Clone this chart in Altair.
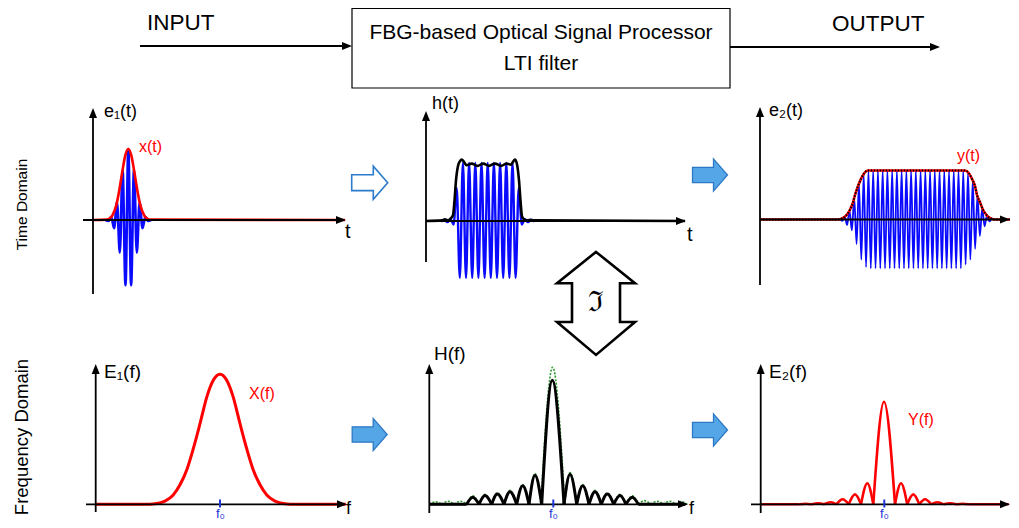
import altair as alt
import numpy as np
import pandas as pd

# ---------------- values ----------------
# Top-left panel, e1(t): Gaussian pulse envelope x(t) and its carrier
e1_env_t = [0, 13.3, 15.8, 19.3, 23.3, 26.3, 29.3, 32.3, 35.3, 38.3, 41.3, 44.3, 47.3, 51.3, 54.8, 57.3, 252]
e1_env_v = [0, 0.005, 0.016, 0.063, 0.21, 0.42, 0.68, 0.91, 1.0, 0.91, 0.68, 0.42, 0.21, 0.063, 0.016, 0.005, 0]
e1_car_t = [12.5, 15.5, 18.3, 21.1, 24.0, 26.8, 29.6, 32.5, 35.3, 38.1, 41.0, 43.8, 46.6, 49.5, 52.3, 55.1, 58.0]
e1_car_v = [0, -0.014, 0.044, -0.115, 0.25, -0.46, 0.71, -0.92, 1.0, -0.92, 0.71, -0.46, 0.25, -0.115, 0.044, -0.014, 0]

# Top-middle panel, h(t): FBG impulse response envelope and carrier
h_env_t = [0, 16, 19, 22, 25, 27, 28.5, 30, 32, 34, 35.7, 38, 40.5, 45.7, 51.5, 57.3, 63, 69, 75, 80.7,
           85, 87, 89, 91, 93, 94.5, 96, 98, 101, 104, 108, 259]
h_env_v = [0, 0.01, 0.03, 0.01, 0.05, 0.1, 0.35, 0.7, 0.95, 1.03, 1.06, 1.02, 0.96, 0.99, 0.95, 0.99, 0.95, 0.99, 0.95, 0.99,
           0.97, 1.02, 1.06, 0.98, 0.7, 0.35, 0.08, 0.03, 0.01, 0.02, 0.01, 0]
h_car_t0, h_car_dt = 15.2, 3.1
h_car_v = [-0.01, 0.02, -0.02, 0.03, -0.06, 0.57,
           -0.98, 1, -0.98, 1, -0.98, 1, -0.98, 1, -0.98, 1, -0.98, 1, -0.98, 1, -0.98, 1, -0.98, 1, -0.98,
           0.57, -0.06, 0.03, -0.02, 0.02, -0.01]

# Top-right panel, e2(t): output envelope y(t) and carrier
e2_env_t = [0, 78, 82, 86, 90, 93, 95, 98, 101, 104, 108, 205, 209, 212, 215, 217, 220, 223, 227, 231, 235, 250]
e2_env_v = [0, 0, 0.02, 0.08, 0.2, 0.35, 0.5, 0.68, 0.83, 0.94, 1.0, 1.0, 0.94, 0.83, 0.68, 0.5, 0.35, 0.2, 0.08, 0.02, 0, 0]
e2_car_t0, e2_car_dt = 80.0, 2.37
e2_car_v = ([0.01, -0.03, 0.06, -0.11, 0.18, -0.22, 0.44, -0.5, 0.73, -0.82, 0.93, -0.97]
            + [1, -1] * 20 + [1]
            + [-0.92, 0.96, -0.82, 0.8, -0.6, 0.5, -0.34, 0.23, -0.14, 0.08, -0.04, 0.02])

# Bottom-left panel, E1(f): Gaussian spectrum X(f)
E1_t = [0, 49.3, 59.3, 69.3, 77.3, 84.3, 91.3, 97.3, 104.3, 111.3, 117.3, 124.3, 131.3, 137.3, 144.3,
        151.3, 157.3, 164.3, 171.3, 179.3, 189.3, 199.3, 250]
E1_v = [0, 0, 0.005, 0.025, 0.07, 0.15, 0.27, 0.42, 0.62, 0.83, 0.95, 1.0, 0.95, 0.83, 0.62,
        0.42, 0.27, 0.15, 0.07, 0.025, 0.005, 0, 0]

# Bottom-middle panel, H(f): sinc-like response (black) and dotted reference (green)
H_zeros = [37.4, 49.7, 62.4, 74.7, 87.4, 99.7, 112.4, 134.7, 147.4, 159.7, 172, 184.4, 196.7, 209]
H_pk_t = [43.4, 55.7, 68, 80.7, 93.4, 105.7, 123, 140.7, 153.4, 165.7, 178, 190.7, 203]
H_pk_v = [0.056, 0.07, 0.083, 0.102, 0.15, 0.234, 1.0, 0.242, 0.15, 0.102, 0.083, 0.07, 0.056]
G_zeros = [0, 12.4, 24.9, 37.4, 49.7, 62.4, 74.7, 87.4, 99.7, 111.6, 135.5, 147.4, 159.7, 172, 184.4,
           196.7, 209, 221.5, 234, 246.5, 258]
G_pk_t = [6.2, 18.6, 31.1, 43.4, 55.7, 68, 80.7, 93.4, 105.7, 123.3, 140.7, 153.4, 165.7, 178, 190.7,
          203, 215.2, 227.7, 240.2, 252.2]
G_pk_v = [0.02, 0.025, 0.025, 0.068, 0.08, 0.092, 0.112, 0.16, 0.248, 1.105, 0.256, 0.16, 0.112, 0.092,
          0.08, 0.068, 0.03, 0.025, 0.025, 0.02]

# Bottom-right panel, E2(f): output spectrum Y(f)
E2_zeros = [38.8, 51.1, 63.4, 75.7, 88, 100.3, 112.6, 134.3, 146.5, 158.6, 170.5, 183, 195.6, 208]
E2_pk_t = [45, 57.6, 70, 82, 94.3, 106.6, 123.3, 140.3, 152.6, 164.3, 176.6, 189.3, 201.8]
E2_pk_v = [0.005, 0.01, 0.02, 0.049, 0.097, 0.205, 1.0, 0.205, 0.097, 0.049, 0.02, 0.01, 0.005]

# ---------------- layout (page pixels) ----------------
# panel: origin x, origin y, pixels per amplitude unit
LAYOUT = {
    "e1": (93, 220, 71),
    "h": (426, 221, 58),
    "e2": (760, 219.5, 49),
    "E1": (95.7, 504.3, 130),
    "H": (429.3, 504.3, 124),
    "E2": (760.7, 504.3, 102.6),
}
# panel: y-axis bottom, y-axis tip, x-axis left, x-axis tip
AXES = {
    "e1": (294, 108, 83, 346),
    "h": (262, 111, 426, 686),
    "e2": (285, 107, 760, 1010),
    "E1": (512, 364, 86, 347),
    "H": (513, 364, 429, 688),
    "E2": (513, 364, 751, 1010),
}

XS = alt.Scale(domain=[8, 1011], nice=False, zero=False)
YS = alt.Scale(domain=[8, 520], nice=False, zero=False, reverse=True)
X = alt.X("X:Q", scale=XS, axis=None)
Y = alt.Y("Y:Q", scale=YS, axis=None)
X2 = alt.X2("X2:Q")
Y2 = alt.Y2("Y2:Q")

BLUE = "#0a0aff"
RED = "#ff0000"
FONT = "Liberation Sans"


def place(key, t, v, seg=0):
    ox, oy, sy = LAYOUT[key]
    t = np.asarray(t, float)
    v = np.asarray(v, float)
    return pd.DataFrame({"X": ox + t, "Y": oy - sy * v, "seg": seg})


def grid(t0, dt, values):
    return [t0 + dt * i for i in range(len(values))]


def lobes(key, zeros, pk_t, pk_v):
    frames = [place(key, [zeros[i], pk_t[i], zeros[i + 1]], [0, pk_v[i], 0], seg=i)
              for i in range(len(pk_t))]
    return pd.concat(frames, ignore_index=True)


def line(df, color, width, dash=None, interp="monotone", by_seg=False):
    kw = dict(color=color, strokeWidth=width, interpolate=interp, strokeJoin="round")
    if dash:
        kw["strokeDash"] = dash
    enc = dict(x=X, y=Y)
    if by_seg:
        enc["detail"] = alt.Detail("seg:N")
    return alt.Chart(df).mark_line(**kw).encode(**enc)


layers = []

# ---- time-domain signals ----
layers.append(line(place("e1", e1_car_t, e1_car_v), BLUE, 2.6))
layers.append(line(place("e1", e1_env_t, e1_env_v), RED, 2.6))

layers.append(line(place("h", grid(h_car_t0, h_car_dt, h_car_v), h_car_v), BLUE, 2.4))
layers.append(line(place("h", h_env_t, h_env_v), "black", 2.6))

layers.append(line(place("e2", grid(e2_car_t0, e2_car_dt, e2_car_v), e2_car_v), BLUE, 1.8))
layers.append(line(place("e2", e2_env_t, e2_env_v), RED, 2.6))
layers.append(line(place("e2", e2_env_t, e2_env_v), "black", 2.0, dash=[1.5, 1.5]))

# ---- frequency-domain spectra ----
layers.append(line(place("E1", E1_t, E1_v), RED, 3.0))

layers.append(line(lobes("H", G_zeros, G_pk_t, G_pk_v), "#2e9a2e", 1.6, dash=[2, 1.5], by_seg=True))
layers.append(line(lobes("H", H_zeros, H_pk_t, H_pk_v), "black", 3.0, by_seg=True))
layers.append(line(pd.concat([place("H", [0, H_zeros[0]], [0, 0], 100),
                              place("H", [H_zeros[-1], 256], [0, 0], 101)]), "black", 3.0,
                   interp="linear", by_seg=True))

layers.append(line(lobes("E2", E2_zeros, E2_pk_t, E2_pk_v), RED, 2.6, by_seg=True))
layers.append(line(pd.concat([place("E2", [0, E2_zeros[0]], [0, 0], 100),
                              place("E2", [E2_zeros[-1], 248], [0, 0], 101)]), RED, 2.6,
                   interp="linear", by_seg=True))

# ---- axes ----
rows = []
heads = []
for key, (ybot, ytop, xl, xtip) in AXES.items():
    ox, oy, _ = LAYOUT[key]
    rows.append({"X": ox, "Y": ybot, "X2": ox, "Y2": ytop + 4})
    rows.append({"X": xl, "Y": oy, "X2": xtip - 4, "Y2": oy})
    heads.append({"X": ox, "Y": ytop + 5, "ang": 0})
    heads.append({"X": xtip - 5, "Y": oy, "ang": 90})
# block diagram arrows
rows.append({"X": 140, "Y": 46, "X2": 346, "Y2": 46})
rows.append({"X": 730, "Y": 47, "X2": 934, "Y2": 47})
heads.append({"X": 347, "Y": 46, "ang": 90})
heads.append({"X": 935, "Y": 47, "ang": 90})
rules = pd.DataFrame(rows)
layers.append(alt.Chart(rules).mark_rule(color="black", strokeWidth=1.8).encode(x=X, y=Y, x2=X2, y2=Y2))
head_df = pd.DataFrame(heads)
layers.append(alt.Chart(head_df).mark_point(shape="M0,-1L0.8,1L-0.8,1Z", filled=True, size=100,
                                             color="black", opacity=1)
              .encode(x=X, y=Y, angle=alt.Angle("ang:Q", scale=None)))

# f0 ticks
f0_df = pd.DataFrame({"X": [LAYOUT[k][0] + c for k, c in [("E1", 124.3), ("H", 124.0), ("E2", 123.6)]],
                      "Y": [499.5] * 3, "Y2": [507.5] * 3})
layers.append(alt.Chart(f0_df).mark_rule(color="#1f35d8", strokeWidth=2).encode(x=X, y=Y, y2=Y2))

# processor box
box = pd.DataFrame({"X": [352], "X2": [730], "Y": [8.5], "Y2": [88]})
layers.append(alt.Chart(box).mark_rect(fill="white", stroke="black", strokeWidth=1.2)
              .encode(x=X, x2=X2, y=Y, y2=Y2))

# block arrows between panels
RIGHT_ARROW = "M-1,-0.44L0.2,-0.44L0.2,-0.92L1,0L0.2,0.92L0.2,0.44L-1,0.44Z"
outline_arrow = pd.DataFrame({"X": [369.7], "Y": [182.7]})
filled_arrows = pd.DataFrame({"X": [710, 369.7, 710], "Y": [175, 434.5, 430]})
layers.append(alt.Chart(outline_arrow).mark_point(shape=RIGHT_ARROW, size=1296, filled=True, fill="white",
                                                   stroke="#2c7bcc", strokeWidth=1.6, opacity=1)
              .encode(x=X, y=Y))
layers.append(alt.Chart(filled_arrows).mark_point(shape=RIGHT_ARROW, size=1225, filled=True, fill="#55a6e6",
                                                   stroke="#2c78c4", strokeWidth=1.3, opacity=1)
              .encode(x=X, y=Y))

# Fourier double arrow
DOUBLE = ("M0,-1L0.757,-0.39L0.466,-0.39L0.466,0.36L0.757,0.36L0,1L-0.757,0.36L-0.466,0.36"
          "L-0.466,-0.39L-0.757,-0.39Z")
dbl = pd.DataFrame({"X": [596], "Y": [303.4]})
layers.append(alt.Chart(dbl).mark_point(shape=DOUBLE, size=10609, filled=True, fill="white",
                                         stroke="black", strokeWidth=2.6, opacity=1)
              .encode(x=X, y=Y))

# ---- texts ----
left_texts = pd.DataFrame([
    {"X": 147, "Y": 23, "text": "INPUT", "size": 22.5, "color": "black"},
    {"X": 832, "Y": 24, "text": "OUTPUT", "size": 22.5, "color": "black"},
    {"X": 104, "Y": 112, "text": "e₁(t)", "size": 18, "color": "black"},
    {"X": 139, "Y": 147, "text": "x(t)", "size": 16, "color": RED},
    {"X": 345, "Y": 232, "text": "t", "size": 20, "color": "black"},
    {"X": 432, "Y": 104, "text": "h(t)", "size": 18, "color": "black"},
    {"X": 687, "Y": 235, "text": "t", "size": 20, "color": "black"},
    {"X": 769, "Y": 111, "text": "e₂(t)", "size": 18, "color": "black"},
    {"X": 957, "Y": 156, "text": "y(t)", "size": 16, "color": RED},
    {"X": 104, "Y": 372, "text": "E₁(f)", "size": 19, "color": "black"},
    {"X": 249, "Y": 394, "text": "X(f)", "size": 16, "color": RED},
    {"X": 346, "Y": 508.5, "text": "f", "size": 18, "color": "black"},
    {"X": 434, "Y": 354, "text": "H(f)", "size": 19, "color": "black"},
    {"X": 689, "Y": 508.5, "text": "f", "size": 18, "color": "black"},
    {"X": 769, "Y": 372, "text": "E₂(f)", "size": 19, "color": "black"},
    {"X": 908, "Y": 419.5, "text": "Y(f)", "size": 16, "color": RED},
])
center_texts = pd.DataFrame([
    {"X": 541, "Y": 32.5, "text": "FBG-based Optical Signal Processor", "size": 21, "color": "black"},
    {"X": 541, "Y": 64, "text": "LTI filter", "size": 21, "color": "black"},
    {"X": 220.5, "Y": 513.5, "text": "f₀", "size": 13, "color": "#1f35d8"},
    {"X": 553.5, "Y": 513.5, "text": "f₀", "size": 13, "color": "#1f35d8"},
    {"X": 884.5, "Y": 513.5, "text": "f₀", "size": 13, "color": "#1f35d8"},
])
side_texts = pd.DataFrame([
    {"X": 22, "Y": 204.5, "text": "Time Domain", "size": 15.5, "color": "black"},
    {"X": 22, "Y": 437, "text": "Frequency Domain", "size": 18.5, "color": "black"},
])

TXT = dict(text="text:N", size=alt.Size("size:Q", scale=None, legend=None),
           color=alt.Color("color:N", scale=None, legend=None))
layers.append(alt.Chart(left_texts).mark_text(align="left", baseline="middle", font=FONT)
              .encode(x=X, y=Y, **TXT))
layers.append(alt.Chart(center_texts).mark_text(align="center", baseline="middle", font=FONT)
              .encode(x=X, y=Y, **TXT))
layers.append(alt.Chart(side_texts).mark_text(align="center", baseline="middle", font=FONT, angle=270)
              .encode(x=X, y=Y, **TXT))
layers.append(alt.Chart(dbl).mark_text(text="ℑ", font="DejaVu Serif", fontSize=28, align="center",
                                        baseline="middle", color="black")
              .encode(x=X, y=Y))

chart = (alt.layer(*layers)
         .properties(width=1003, height=512, padding=0, autosize=alt.AutoSizeParams(type="none"))
         .configure_view(stroke=None))

chart.save("out.html", embed_options={"renderer": "svg", "actions": False})
